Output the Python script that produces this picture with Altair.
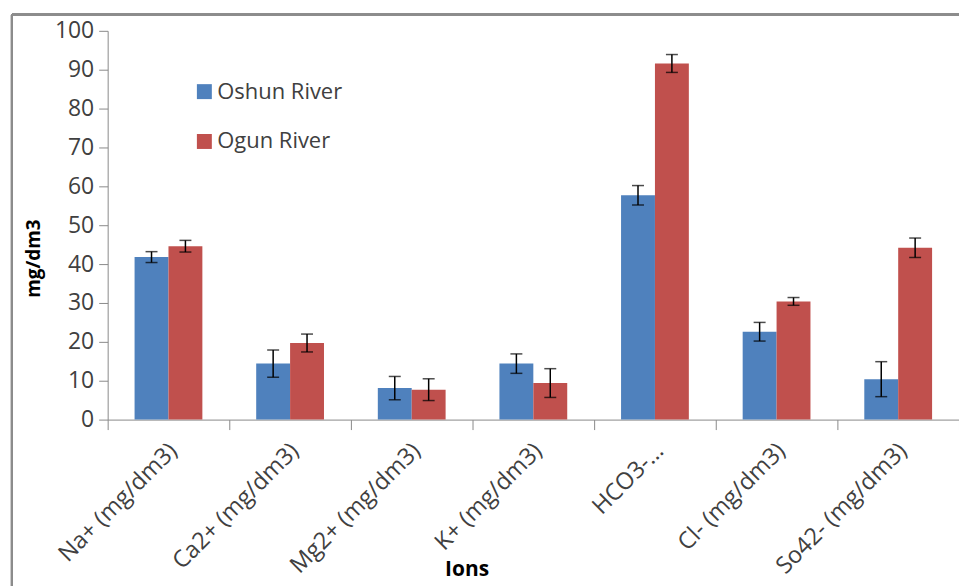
import altair as alt
import pandas as pd

ions = ["Na+ (mg/dm3)", "Ca2+  (mg/dm3)", "Mg2+ (mg/dm3)", "K+ (mg/dm3)",
        "HCO3-…", "Cl- (mg/dm3)", "So42- (mg/dm3)"]
rivers = ["Oshun River", "Ogun River"]
oshun = [41.8, 14.4, 8.1, 14.4, 57.7, 22.6, 10.4]
oshun_err = [1.4, 3.5, 3.0, 2.5, 2.5, 2.4, 4.5]
ogun = [44.6, 19.7, 7.7, 9.4, 91.6, 30.4, 44.2]
ogun_err = [1.5, 2.3, 2.8, 3.7, 2.3, 1.0, 2.5]
colors = ["#4F81BD", "#C0504D"]

rows = []
for river, vals, errs in [(rivers[0], oshun, oshun_err), (rivers[1], ogun, ogun_err)]:
    for ion, v, e in zip(ions, vals, errs):
        rows.append({"ion": ion, "river": river, "value": v,
                     "low": v - e, "high": v + e})
df = pd.DataFrame(rows)

FONT = "Open Sans"
TXT = "#404040"
GRAY = "#8a8a8a"

x_axis = alt.Axis(title="Ions", labelAngle=-45, labelFontSize=23.5,
                  labelFont=FONT, labelColor=TXT, labelPadding=9,
                  labelOffset=-4, labelLimit=300, labelOverlap=False,
                  tickBand="extent", tickSize=10, tickColor=GRAY,
                  domainColor=GRAY, titleFont=FONT, titleFontSize=21,
                  titleFontWeight="bold", titleColor="#000000",
                  titleX=360, titleY=139, titleAnchor="start",
                  titleAlign="center")
x_scale = alt.Scale(paddingInner=0, paddingOuter=0)
xo = alt.XOffset("river:N", sort=rivers,
                 scale=alt.Scale(paddingInner=0, paddingOuter=0.794))
y_axis = alt.Axis(title="mg/dm3", values=list(range(0, 101, 10)),
                  labelOverlap=False,
                  grid=False, tickSize=9, tickColor=GRAY,
                  domainColor=GRAY, labelFont=FONT, labelFontSize=23,
                  labelColor=TXT, labelPadding=5, titleFont=FONT,
                  titleFontSize=19, titleFontWeight="bold",
                  titleColor="#000000", titleX=-64, titleY=228,
                  titleAnchor="start", titleAlign="center")
y_scale = alt.Scale(domain=[0, 100], nice=False)


def X():
    return alt.X("ion:N", sort=ions, scale=x_scale, axis=x_axis)


def Y(field):
    return alt.Y(field, scale=y_scale, axis=y_axis)


bars = alt.Chart(df).mark_bar().encode(
    x=X(), xOffset=xo, y=Y("value:Q"),
    color=alt.Color("river:N", sort=rivers,
                    scale=alt.Scale(domain=rivers, range=colors),
                    legend=alt.Legend(title=None, orient="none", legendX=86,
                                      legendY=50, symbolType="square",
                                      symbolSize=225, symbolStrokeWidth=0,
                                      labelFont=FONT, labelFontSize=22,
                                      labelColor=TXT, rowPadding=28,
                                      labelOffset=2))
)

err_rule = alt.Chart(df).mark_rule(color="black", strokeWidth=1.5).encode(
    x=X(), xOffset=xo, y=Y("low:Q"), y2="high:Q"
)
cap_low = alt.Chart(df).mark_tick(color="black", thickness=1.5, size=12).encode(
    x=X(), xOffset=xo, y=Y("low:Q")
)
cap_high = alt.Chart(df).mark_tick(color="black", thickness=1.5, size=12).encode(
    x=X(), xOffset=xo, y=Y("high:Q")
)

frame_left = alt.Chart(df).mark_rule(color="#8c8c8c", strokeWidth=2).encode(
    x=alt.value(-96), y=alt.value(-16), y2=alt.value(600))
frame_top = alt.Chart(df).mark_rule(color="#8c8c8c", strokeWidth=2).encode(
    x=alt.value(-96), x2=alt.value(900), y=alt.value(-16))

chart = alt.layer(bars, err_rule, cap_low, cap_high, frame_left, frame_top).properties(
    width=854, height=390,
    autosize=alt.AutoSizeParams(type="none"),
    padding={"left": 108, "top": 30, "right": 0, "bottom": 166},
    background="white"
).configure_view(stroke=None)

chart.save("out.html", embed_options={"renderer": "svg", "actions": False})
